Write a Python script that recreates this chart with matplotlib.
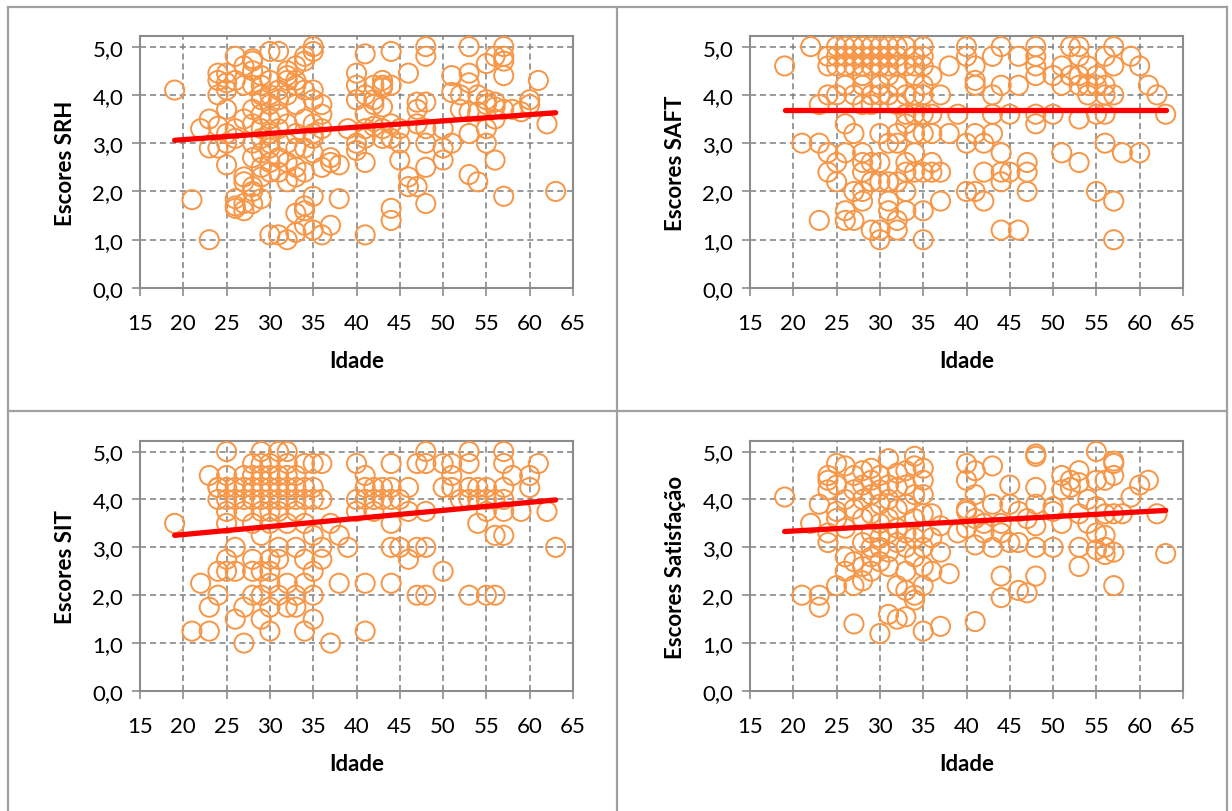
import matplotlib
matplotlib.use("Agg")
from matplotlib import pyplot as plt
from matplotlib.lines import Line2D

plt.rcParams["font.family"] = ["Lato", "DejaVu Sans"]

# --- data (age, score) ---
srh_age = [19, 21, 22, 23, 23, 23,
           24, 24, 24, 24, 24,
           25, 25, 25, 25, 25, 25, 25,
           26, 26, 26, 26, 26, 26, 26,
           27, 27, 27, 27, 27, 27, 27,
           28, 28, 28, 28, 28, 28, 28, 28, 28, 28, 28,
           29, 29, 29, 29, 29, 29, 29, 29, 29, 29, 29,
           30, 30, 30, 30, 30, 30, 30, 30, 30, 30, 30,
           31, 31, 31, 31, 31, 31, 31, 31,
           32, 32, 32, 32, 32, 32, 32, 32, 32,
           33, 33, 33, 33, 33, 33, 33, 33, 33, 33,
           34, 34, 34, 34, 34, 34, 34, 34, 34,
           35, 35, 35, 35, 35, 35, 35, 35, 35, 35,
           36, 36, 36, 36, 36, 37, 37, 37, 38, 38, 39,
           40, 40, 40, 40, 40,
           41, 41, 41, 41, 41, 41, 41,
           42, 42, 42, 42, 43, 43, 43, 43, 43, 43,
           44, 44, 44, 44, 44, 44, 45, 45, 45, 46, 46, 46,
           47, 47, 47, 47, 48, 48, 48, 48, 48, 48, 48,
           50, 50, 50, 51, 51, 51, 52, 52,
           53, 53, 53, 53, 53, 53, 54, 54, 54,
           55, 55, 55, 55, 55, 56, 56, 56, 56, 56,
           57, 57, 57, 57, 57, 57, 58, 59, 60, 60, 61, 62, 63]
srh = [4.1, 1.83, 3.3, 1.0, 3.5, 2.9,
       4.45, 4.3, 4.0, 3.35, 2.9,
       4.45, 4.25, 4.1, 3.7, 3.2, 3.0, 2.55,
       4.8, 4.3, 3.3, 3.1, 1.85, 1.7, 1.65,
       4.6, 4.2, 3.5, 2.3, 2.2, 1.6, 1.75,
       4.75, 4.7, 4.5, 4.2, 3.7, 3.4, 3.0, 2.7, 2.1, 1.75, 2.0,
       4.4, 4.2, 4.0, 3.6, 3.3, 3.1, 2.8, 2.5, 2.3, 1.85, 3.9,
       4.9, 4.3, 4.0, 3.5, 3.2, 3.0, 2.9, 2.6, 2.4, 1.1, 3.8,
       4.1, 3.6, 3.3, 2.7, 2.4, 1.1, 4.9, 3.9,
       4.5, 4.3, 4.0, 3.4, 3.0, 2.6, 2.2, 1.0, 4.4,
       4.6, 4.3, 3.8, 3.2, 2.9, 2.5, 2.3, 1.55, 1.15, 4.2,
       4.7, 4.1, 3.5, 2.9, 2.4, 1.7, 1.6, 1.3, 4.8,
       5.0, 4.9, 4.1, 3.9, 3.4, 3.1, 2.8, 1.9, 1.2, 3.2,
       3.8, 3.6, 2.5, 1.1, 3.3, 2.7, 2.6, 1.3, 2.55, 1.85, 3.3,
       4.45, 4.2, 3.9, 3.0, 2.85,
       4.85, 3.6, 3.1, 2.6, 1.1, 4.0, 3.3,
       4.2, 3.8, 3.35, 3.9, 4.3, 4.15, 3.75, 3.3, 3.1, 4.2,
       4.9, 4.2, 3.4, 3.1, 1.65, 1.4, 3.0, 2.65, 3.3, 4.45, 2.3, 2.1,
       3.85, 3.7, 2.1, 3.4, 5.0, 4.8, 3.85, 3.3, 3.0, 2.5, 1.75,
       3.3, 2.9, 2.65, 4.4, 4.05, 3.0, 4.0, 3.7,
       5.0, 4.45, 4.25, 3.65, 3.2, 2.35, 3.65, 2.2, 4.0,
       4.65, 3.9, 3.8, 3.3, 3.0, 4.8, 3.85, 3.5, 2.65, 3.75,
       5.0, 4.8, 4.7, 4.4, 1.9, 3.7, 3.7, 3.65, 3.9, 3.8, 4.3, 3.4, 2.0]

saft_age = [19, 21, 22, 23, 23, 23,
            24, 24, 24, 24, 24,
            25, 25, 25, 25, 25, 25,
            26, 26, 26, 26, 26, 26, 26, 26,
            27, 27, 27, 27, 27, 27, 27,
            28, 28, 28, 28, 28, 28, 28, 28, 28, 28, 28,
            29, 29, 29, 29, 29, 29, 29, 29,
            30, 30, 30, 30, 30, 30, 30, 30, 30, 30,
            31, 31, 31, 31, 31, 31, 31, 31, 31,
            32, 32, 32, 32, 32, 32, 32, 32, 32, 32,
            33, 33, 33, 33, 33, 33, 33, 33, 33,
            34, 34, 34, 34, 34, 34, 34, 34,
            35, 35, 35, 35, 35, 35, 35, 35, 35, 35,
            36, 36, 36, 36, 36, 37, 37, 37, 38, 38, 39,
            40, 40, 40, 40, 41, 41, 41, 41, 41,
            42, 42, 42, 43, 43, 43, 43,
            44, 44, 44, 44, 44, 44, 45, 45, 46, 46, 46,
            47, 47, 47, 48, 48, 48, 48, 48, 48,
            50, 50, 51, 51, 51, 52, 52,
            53, 53, 53, 53, 53, 53, 54, 54, 54,
            55, 55, 55, 55, 56, 56, 56, 56, 56,
            57, 57, 57, 57, 57, 58, 59, 60, 60, 61, 62, 63]
saft = [4.6, 3.0, 5.0, 3.0, 1.4, 3.8,
        4.8, 4.6, 4.0, 2.8, 2.4,
        5.0, 4.8, 4.6, 4.0, 2.6, 2.2,
        5.0, 4.8, 4.6, 4.2, 3.4, 2.8, 1.6, 1.4,
        5.0, 4.8, 4.6, 4.0, 3.2, 2.0, 1.4,
        5.0, 4.8, 4.6, 4.4, 4.2, 3.8, 2.8, 2.6, 2.4, 2.0, 1.8,
        5.0, 4.8, 4.6, 4.0, 3.8, 2.6, 2.2, 1.2,
        5.0, 4.8, 4.6, 4.2, 4.0, 3.2, 2.6, 2.2, 1.0, 1.2,
        5.0, 4.8, 4.6, 4.4, 4.0, 3.0, 2.2, 1.8, 1.6,
        5.0, 4.8, 4.6, 4.2, 3.8, 3.2, 3.0, 2.2, 1.4, 1.2,
        5.0, 4.6, 4.0, 3.6, 3.4, 2.6, 2.0, 1.6, 2.4,
        4.8, 4.6, 4.4, 4.0, 3.6, 3.2, 2.4, 2.8,
        5.0, 4.8, 4.6, 4.2, 4.0, 3.6, 3.2, 2.4, 1.6, 1.0,
        4.4, 3.6, 3.2, 2.6, 2.4, 4.0, 2.4, 1.8, 4.6, 3.2, 3.6,
        5.0, 4.8, 3.0, 2.0, 4.6, 4.2, 4.3, 3.2, 2.0,
        3.0, 1.8, 2.4, 4.8, 4.0, 3.6, 3.2,
        5.0, 4.2, 2.8, 2.4, 2.2, 1.2, 3.6, 2.4, 4.8, 4.2, 1.2,
        2.6, 2.4, 2.0, 5.0, 4.8, 4.6, 4.4, 3.6, 3.4,
        4.4, 3.6, 4.6, 4.2, 2.8, 5.0, 4.4,
        5.0, 4.8, 4.4, 4.2, 3.5, 2.6, 4.6, 4.2, 4.0,
        4.4, 4.2, 3.6, 2.0, 4.8, 4.0, 3.6, 3.0, 4.2,
        5.0, 4.6, 4.0, 1.8, 1.0, 2.8, 4.8, 4.6, 2.8, 4.2, 4.0, 3.6]

sit_age = [19, 21, 22, 23, 23, 23,
           24, 24, 24, 24, 24,
           25, 25, 25, 25, 25, 25, 25, 25,
           26, 26, 26, 26, 26,
           27, 27, 27, 27, 27, 27,
           28, 28, 28, 28, 28, 28, 28, 28,
           29, 29, 29, 29, 29, 29, 29, 29, 29, 29,
           30, 30, 30, 30, 30, 30, 30, 30, 30, 30, 30,
           31, 31, 31, 31, 31, 31, 31, 31,
           32, 32, 32, 32, 32, 32, 32, 32,
           33, 33, 33, 33, 33, 33, 33,
           34, 34, 34, 34, 34, 34, 34,
           35, 35, 35, 35, 35, 35, 35,
           36, 36, 36, 36, 37, 37, 38, 38, 39,
           40, 40, 40, 41, 41, 41, 41, 41,
           42, 42, 42, 43, 43,
           44, 44, 44, 44, 44, 44, 45, 45, 46, 46, 46,
           47, 47, 47, 48, 48, 48, 48, 48,
           50, 50, 50, 51, 51, 51, 52,
           53, 53, 53, 53, 53, 54, 54, 54,
           55, 55, 55, 55, 56, 56, 56,
           57, 57, 57, 57, 57, 57, 58, 59, 60, 60, 61, 62, 63]
sit = [3.5, 1.25, 2.25, 4.5, 1.75, 1.25,
       4.25, 4.0, 2.5, 2.0, 4.25,
       5.0, 4.5, 4.25, 4.0, 3.75, 3.5, 2.75, 2.5,
       4.25, 4.0, 3.0, 2.5, 1.5,
       4.5, 4.25, 4.0, 3.75, 1.75, 1.0,
       4.75, 4.5, 4.25, 4.0, 3.5, 2.75, 2.5, 2.0,
       5.0, 4.75, 4.5, 4.25, 4.0, 3.75, 3.25, 2.5, 2.0, 1.5,
       4.75, 4.5, 4.25, 4.0, 3.75, 3.5, 2.75, 2.5, 2.25, 1.75, 1.25,
       5.0, 4.5, 4.25, 4.0, 3.75, 3.0, 2.75, 2.0,
       5.0, 4.75, 4.5, 4.25, 4.0, 3.5, 2.25, 1.75,
       4.5, 4.25, 4.0, 3.75, 3.0, 2.0, 1.75,
       4.75, 4.25, 4.0, 3.5, 2.75, 2.25, 1.25,
       4.75, 4.25, 4.0, 3.25, 2.5, 2.0, 1.5,
       4.75, 4.0, 3.0, 2.75, 3.5, 1.0, 3.25, 2.25, 3.0,
       4.75, 4.0, 3.75, 4.5, 4.25, 4.0, 2.25, 1.25,
       4.25, 4.0, 3.75, 4.25, 4.0,
       4.75, 4.25, 4.0, 3.5, 3.0, 2.25, 4.0, 3.0, 4.25, 3.75, 2.75,
       4.75, 3.0, 2.0, 5.0, 4.75, 3.75, 3.0, 2.0,
       4.75, 4.25, 2.5, 4.75, 4.5, 4.25, 4.0,
       5.0, 4.75, 4.25, 4.0, 2.0, 4.25, 4.0, 3.5,
       4.25, 4.0, 3.75, 2.0, 4.0, 3.25, 2.0,
       5.0, 4.75, 4.25, 4.0, 3.75, 3.25, 4.5, 3.75, 4.5, 4.25, 4.75, 3.75, 3.0]

sat_age = [19, 21, 22, 23, 23, 23,
           24, 24, 24, 24, 24,
           25, 25, 25, 25, 25,
           26, 26, 26, 26, 26,
           27, 27, 27, 27, 27, 27,
           28, 28, 28, 28, 28, 28, 28,
           29, 29, 29, 29, 29, 29, 29, 29,
           30, 30, 30, 30, 30, 30, 30, 30,
           31, 31, 31, 31, 31, 31, 31, 31,
           32, 32, 32, 32, 32, 32, 32,
           33, 33, 33, 33, 33, 33, 33, 33,
           34, 34, 34, 34, 34, 34, 34, 34,
           35, 35, 35, 35, 35, 35, 35, 35, 35,
           36, 36, 36, 37, 37, 37, 38, 39,
           40, 40, 40, 40, 40, 41, 41, 41, 41, 41,
           42, 42, 43, 43, 43, 44, 44, 44, 44,
           45, 45, 45, 46, 46, 46, 47, 47,
           48, 48, 48, 48, 48, 48, 48,
           50, 50, 50, 51, 51, 51, 52, 52,
           53, 53, 53, 53, 53, 54, 54,
           55, 55, 55, 55, 55, 56, 56, 56, 56, 56,
           57, 57, 57, 57, 57, 57, 58, 59, 60, 61, 62, 63]
sat = [4.05, 2.0, 3.5, 3.9, 2.0, 1.75,
       4.5, 4.4, 4.2, 3.3, 3.1,
       4.75, 4.3, 3.75, 3.6, 2.2,
       4.7, 4.0, 3.4, 2.8, 2.5,
       4.5, 4.2, 3.8, 2.7, 2.2, 1.4,
       4.6, 4.3, 4.0, 3.6, 3.1, 2.6, 2.3,
       4.65, 4.4, 4.1, 3.7, 3.3, 3.0, 2.8, 2.5,
       4.5, 4.2, 3.9, 3.5, 3.2, 3.0, 2.7, 1.2,
       4.85, 4.3, 4.0, 3.6, 3.3, 2.9, 2.6, 1.6,
       4.55, 4.25, 3.8, 3.4, 3.1, 2.2, 1.5,
       4.6, 4.3, 3.9, 3.3, 3.0, 2.5, 2.1, 1.55,
       4.9, 4.7, 4.1, 3.6, 3.2, 2.8, 2.0, 1.9,
       4.65, 4.4, 4.1, 3.7, 3.3, 3.0, 2.6, 2.2, 1.25,
       3.7, 3.2, 2.5, 3.45, 2.9, 1.35, 2.45, 3.3,
       4.75, 4.4, 3.8, 3.4, 3.75, 4.6, 4.1, 3.6, 3.05, 1.45,
       3.5, 3.3, 4.7, 3.9, 3.0, 3.5, 3.3, 2.4, 1.95,
       4.3, 3.9, 3.1, 3.75, 3.1, 2.1, 3.6, 2.05,
       4.95, 4.9, 4.25, 3.9, 3.45, 3.0, 2.4,
       3.85, 3.75, 3.0, 4.5, 4.2, 3.5, 4.4, 4.25,
       4.6, 4.35, 3.7, 3.0, 2.6, 4.0, 3.5,
       5.0, 4.4, 3.85, 3.3, 2.95, 4.4, 3.7, 3.25, 3.0, 2.85,
       4.8, 4.75, 4.5, 3.7, 2.9, 2.2, 3.7, 4.05, 4.3, 4.4, 3.7, 2.87]

# linear trend lines, value at the first and last age
trend_age = [19, 63]
srh_trend = [3.06, 3.63]
saft_trend = [3.68, 3.68]
sit_trend = [3.25, 3.99]
sat_trend = [3.33, 3.77]

x_ticks = [15, 20, 25, 30, 35, 40, 45, 50, 55, 60, 65]
y_ticks = [0, 1, 2, 3, 4, 5]
y_labels = ["0,0", "1,0", "2,0", "3,0", "4,0", "5,0"]

panels = [
    (srh_age, srh, srh_trend, "Escores SRH"),
    (saft_age, saft, saft_trend, "Escores SAFT"),
    (sit_age, sit, sit_trend, "Escores SIT"),
    (sat_age, sat, sat_trend, "Escores Satisfação"),
]

fig = plt.figure(figsize=(12.32, 8.12), dpi=100)

W, H = 1232, 812
# axes rectangles in pixels: left, top, right, bottom
boxes = [(140, 37, 573, 289), (750, 37, 1183, 289),
         (140, 442, 573, 692), (750, 442, 1183, 692)]

orange = "#F79646"
gray = "#8c8c8c"

for (age, score, trend, ylabel), (l, t, r, b) in zip(panels, boxes):
    ax = fig.add_axes([l / W, 1 - b / H, (r - l) / W, (b - t) / H])
    ax.scatter(age, score, s=190, facecolors="none", edgecolors=orange,
               linewidths=1.4, zorder=3)
    ax.plot(trend_age, trend, color="#FF0000", lw=3.8,
            solid_capstyle="round", zorder=4)
    ax.set_xlim(15, 65)
    ax.set_ylim(0, 5.22)
    ax.set_xticks(x_ticks)
    ax.set_yticks(y_ticks)
    ax.set_yticklabels(y_labels)
    ax.grid(True, color="#7f7f7f", linestyle=(0, (4, 2.5)), linewidth=1.1, zorder=0)
    ax.set_axisbelow(True)
    for side in ax.spines.values():
        side.set_color(gray)
        side.set_linewidth(1.5)
    ax.tick_params(direction="out", length=6, width=1.2, color=gray,
                   labelsize=16, labelcolor="black")
    ax.tick_params(axis="x", pad=12)
    ax.tick_params(axis="y", pad=6)
    ax.set_xlabel("Idade", fontsize=16, fontweight="bold", labelpad=12)
    ax.set_ylabel(ylabel, fontsize=16, fontweight="bold", labelpad=12)

# cell borders around the four charts
border = dict(color="#a0a0a0", lw=1.6, transform=fig.transFigure)
for xp in [8, 617, 1227]:
    fig.add_artist(Line2D([xp / W, xp / W], [0, 1 - 8 / H], **border))
for yp in [8, 412]:
    fig.add_artist(Line2D([8 / W, 1227 / W], [1 - yp / H, 1 - yp / H], **border))

plt.savefig("out.png", dpi=100)
